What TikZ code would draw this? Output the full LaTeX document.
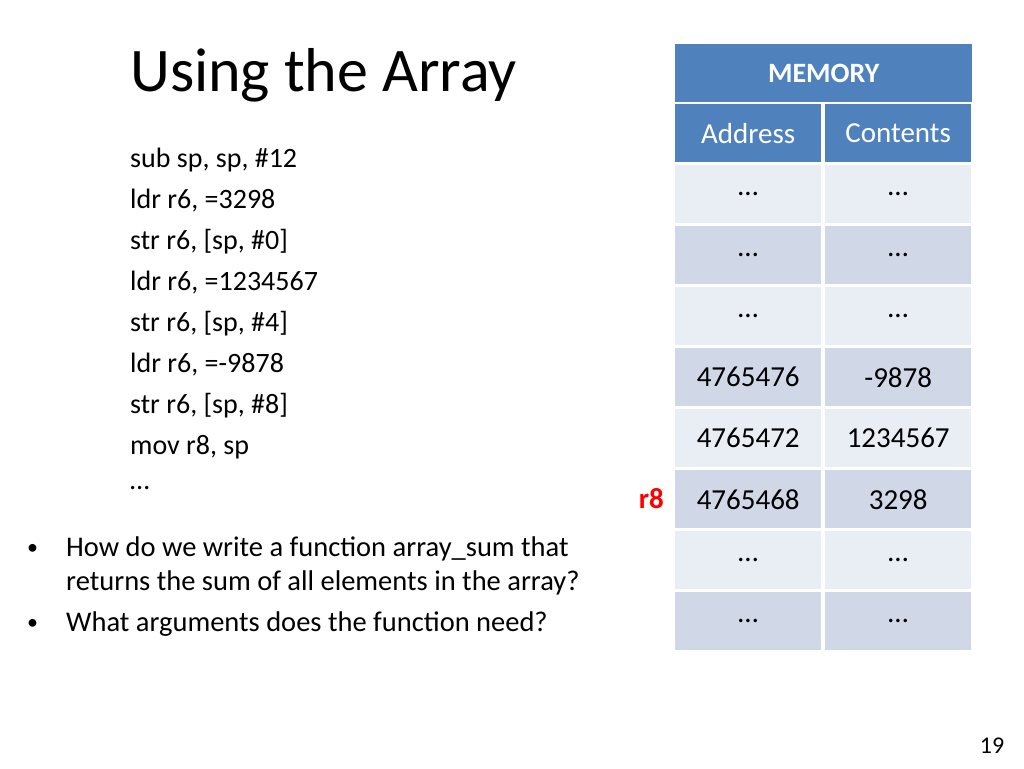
\documentclass[tikz,border=0pt]{standalone}
\usepackage{fontspec}
\setmainfont{Carlito}
\definecolor{hdr}{HTML}{4F81BD}
\definecolor{lite}{HTML}{E9EDF4}
\definecolor{dark}{HTML}{D0D8E8}
\begin{document}
\begin{tikzpicture}[x=1pt,y=-1pt,
  cell/.style={minimum width=146pt,minimum height=58pt,inner sep=0pt,anchor=north west,font=\fontsize{29}{34}\selectfont},
  code/.style={anchor=west,inner sep=0pt,font=\fontsize{28}{33}\selectfont},
  bul/.style={anchor=west,inner sep=0pt,font=\fontsize{28.5}{33}\selectfont}]
\useasboundingbox[fill=white] (0,0) rectangle (1024,768);
\node[anchor=west,inner sep=0pt,font=\fontsize{62}{70}\selectfont] (title) at (130,75) {Using the Array};
\foreach \t [count=\i from 0] in {sub sp{,} sp{,} \#12, ldr r6{,} =3298, str r6{,} [sp{,} \#0], ldr r6{,} =1234567, str r6{,} [sp{,} \#4], ldr r6{,} =-9878, str r6{,} [sp{,} \#8], mov r8{,} sp, \dots}
  \node[code] (c\i) at (130,160+41*\i) {\t};
\node[bul] (b1) at (66,549) {How do we write a function array\_sum that};
\node[bul] (b1b) at (66,583) {returns the sum of all elements in the array?};
\node[bul] (b2) at (66,624) {What arguments does the function need?};
\node[bul,font=\fontsize{22}{26}\selectfont] (d1) at (27,549) {•};
\node[bul,font=\fontsize{22}{26}\selectfont] (d2) at (27,624) {•};
% table
\node[cell,fill=hdr,minimum width=297pt,text=white,font=\fontsize{28}{32}\selectfont\bfseries] (mem) at (675,44) {MEMORY};
\node[cell,fill=hdr,text=white] (ha) at (675,104) {Address};
\node[cell,fill=hdr,text=white] (hc) at (825,104) {Contents};
\foreach \a/\c/\col [count=\i] in {\dots/\dots/lite,\dots/\dots/dark,\dots/\dots/lite,4765476/-9878/dark,4765472/1234567/lite,4765468/3298/dark,\dots/\dots/lite,\dots/\dots/dark}{
  \node[cell,fill=\col] (a\i) at (675,104+61*\i) {\a};
  \node[cell,fill=\col] (v\i) at (825,104+61*\i) {\c};
}
\node[anchor=east,inner sep=0pt,text=red,font=\fontsize{29}{34}\selectfont\bfseries] (r8) at (664,499) {r8};
\node[inner sep=0pt,font=\fontsize{24}{28}\selectfont] (pg) at (992,746) {19};
\end{tikzpicture}
\end{document}
